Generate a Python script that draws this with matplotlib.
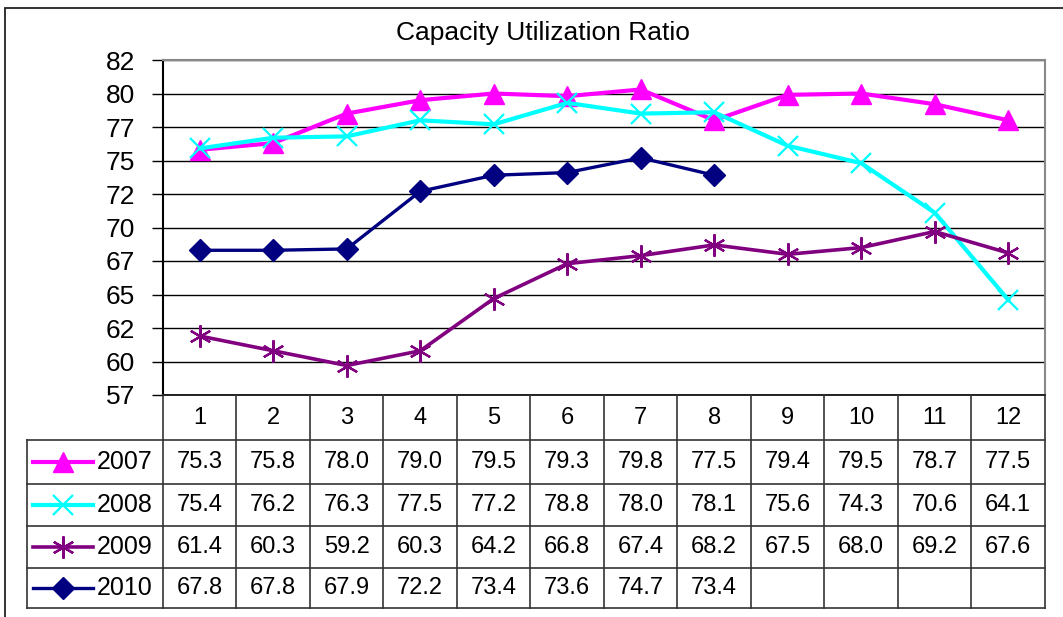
import matplotlib.pyplot as plt
import numpy as np
from matplotlib.patches import Rectangle

plt.rcParams['font.family'] = ['Liberation Sans', 'DejaVu Sans']

# data
months = [1, 2, 3, 4, 5, 6, 7, 8, 9, 10, 11, 12]
years = ['2007', '2008', '2009', '2010']
y2007 = [75.3, 75.8, 78.0, 79.0, 79.5, 79.3, 79.8, 77.5, 79.4, 79.5, 78.7, 77.5]
y2008 = [75.4, 76.2, 76.3, 77.5, 77.2, 78.8, 78.0, 78.1, 75.6, 74.3, 70.6, 64.1]
y2009 = [61.4, 60.3, 59.2, 60.3, 64.2, 66.8, 67.4, 68.2, 67.5, 68.0, 69.2, 67.6]
y2010 = [67.8, 67.8, 67.9, 72.2, 73.4, 73.6, 74.7, 73.4]
series = [y2007, y2008, y2009, y2010]

colors = ['#FF00FF', '#00FFFF', '#800080', '#000080']
markers = ['^', 'x', (6, 2, 0), 'D']
msizes = [15, 15, 16, 11]
lwidths = [3, 3, 2.6, 2.4]
stroked = [False, True, True, False]

W, H = 1063, 617


def box(x0, y0, x1, y1):
    return [x0 / W, 1 - y1 / H, (x1 - x0) / W, (y1 - y0) / H]


fig = plt.figure(figsize=(W / 100, H / 100), dpi=100)
fig.add_artist(Rectangle((5 / W, -0.1), 1.2, 1 - 8 / H + 0.1, transform=fig.transFigure,
                         fill=False, ec='#222222', lw=1.3))
fig.text(543 / W, 1 - 33 / H, 'Capacity Utilization Ratio', ha='center', va='center', fontsize=19)

# line chart
ax = fig.add_axes(box(163, 60, 1045, 395))
for vals, c, m, ms, lw, st in zip(series, colors, markers, msizes, lwidths, stroked):
    x = months[:len(vals)]
    if st:
        ax.plot(x, vals, color=c, lw=lw, marker=m, ms=ms, mew=1.6, zorder=3)
    else:
        ax.plot(x, vals, color=c, lw=lw, marker=m, ms=ms, mec=c, zorder=3)
ax.set_xlim(0.5, 12.5)
ax.set_ylim(57, 82)
yticks = np.arange(57, 82.01, 2.5)
ax.set_yticks(yticks)
ax.set_yticklabels([str(int(np.floor(v + 0.5))) for v in yticks], fontsize=19)
ax.set_xticks([])
ax.tick_params(axis='y', length=8, width=1, pad=12)
ax.grid(axis='y', color='black', lw=1)
for s in ['top', 'right']:
    ax.spines[s].set_color('#888888')
    ax.spines[s].set_lw(1.5)
ax.spines['left'].set_lw(1.5)
ax.spines['bottom'].set_lw(1.2)

# data table below (y in pixel rows, header row a little taller)
colw = (1045 - 163) / 12
left = 0.5 - (163 - 27) / colw
rows = [395, 440, 484, 526, 568, 608]
tab = fig.add_axes(box(27, 395, 1045, 608))
tab.set_xlim(left, 12.5)
tab.set_ylim(608, 395)
tab.axis('off')
lc = '#333333'
for i in range(13):
    tab.plot([i + 0.5, i + 0.5], [rows[0], rows[-1]], color=lc, lw=1.2, clip_on=False)
for r in rows[1:]:
    tab.plot([left, 12.5], [r, r], color=lc, lw=1.2, clip_on=False)
tab.plot([left, left], [rows[1], rows[-1]], color=lc, lw=1.2, clip_on=False)
for m in months:
    tab.text(m, (rows[0] + rows[1]) / 2, str(m), ha='center', va='center', fontsize=17)
for r, (name, vals, c, mk, ms, lw, st) in enumerate(zip(years, series, colors, markers, msizes, lwidths, stroked)):
    yc = (rows[r + 1] + rows[r + 2]) / 2
    for m, v in zip(months, vals):
        tab.text(m, yc, f'{v:.1f}', ha='center', va='center', fontsize=17)
    lx0 = left + 6 / colw
    lx1 = left + 66 / colw
    tab.plot([lx0, lx1], [yc, yc], color=c, lw=lw, clip_on=False)
    if st:
        tab.plot([(lx0 + lx1) / 2], [yc], color=c, marker=mk, ms=ms, mew=1.6, clip_on=False)
    else:
        tab.plot([(lx0 + lx1) / 2], [yc], color=c, marker=mk, ms=ms, mec=c, clip_on=False)
    tab.text(left + 70 / colw, yc, name, ha='left', va='center', fontsize=18)

fig.savefig('out.png', dpi=100)
